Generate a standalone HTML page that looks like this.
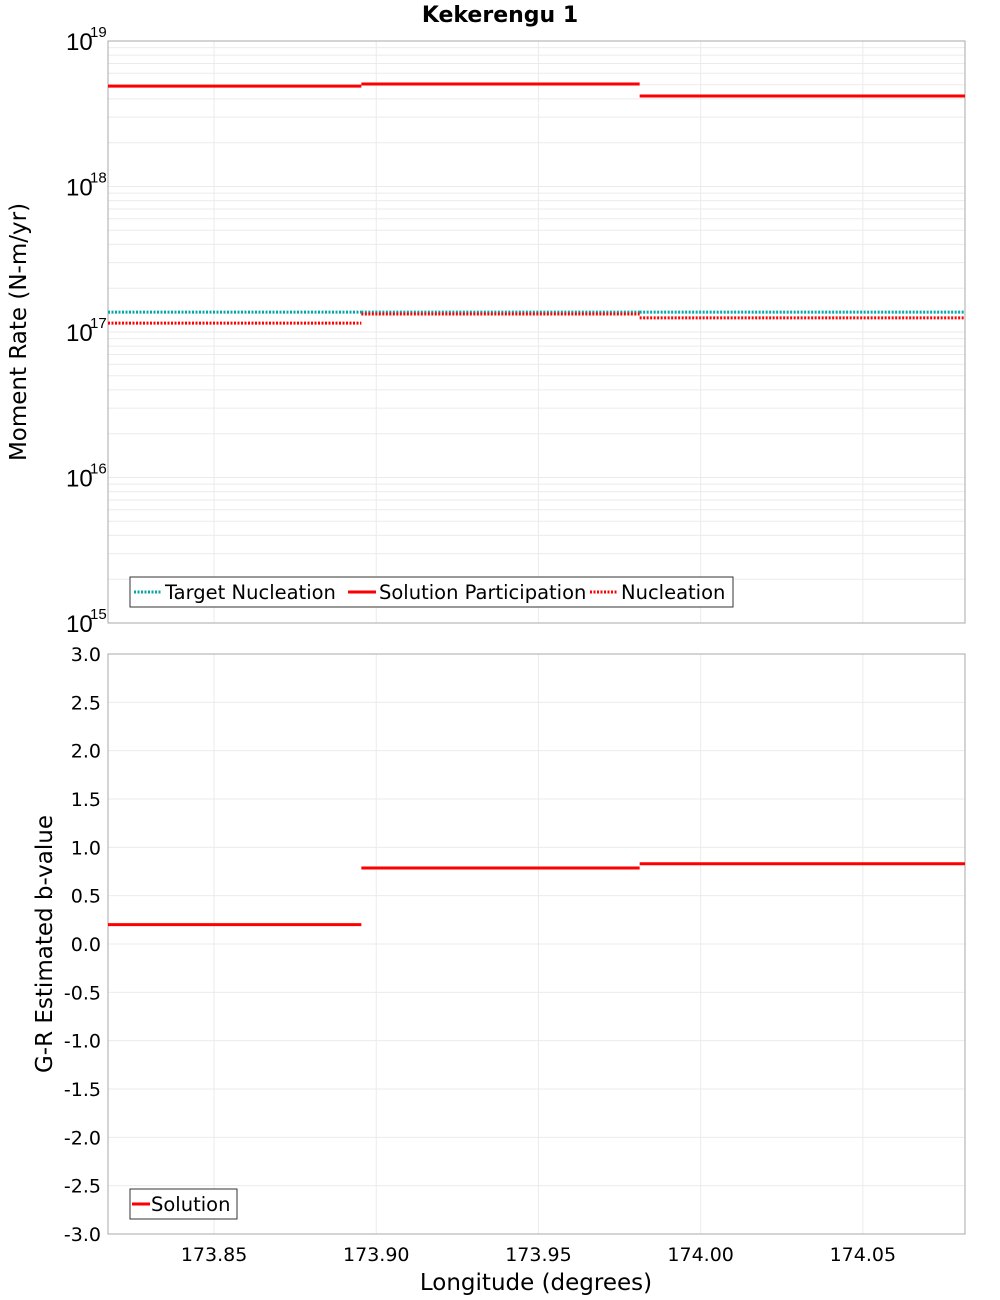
<!DOCTYPE html>
<html><head><meta charset="utf-8"><style>
body{margin:0;background:#fff;}
svg{display:block;font-family:"Liberation Sans","DejaVu Sans",sans-serif;}
</style></head><body>
<svg id="chart" width="1000" height="1300" xmlns="http://www.w3.org/2000/svg">
<text x="500" y="22" text-anchor="middle" font-size="22" font-weight="bold" font-family="DejaVu Sans, sans-serif">Kekerengu 1</text>
<text transform="translate(26,332) rotate(-90)" text-anchor="middle" font-size="23" font-family="DejaVu Sans, sans-serif">Moment Rate (N-m/yr)</text>
<text transform="translate(52,944) rotate(-90)" text-anchor="middle" font-size="23" font-family="DejaVu Sans, sans-serif">G-R Estimated b-value</text>
<text x="536" y="1290" text-anchor="middle" font-size="23" font-family="DejaVu Sans, sans-serif">Longitude (degrees)</text>
<g id="g"></g>
</svg>
<script>
const segStarts=[173.8173,173.8954,173.9812];
const segEnds=[173.8954,173.9812,174.0815];
const targetNucleation=[1.37e17,1.37e17,1.37e17];
const solutionParticipation=[4.9e18,5.06e18,4.19e18];
const nucleation=[1.15e17,1.33e17,1.25e17];
const bValues=[0.2,0.786,0.83];
const xTicks=[173.85,173.90,173.95,174.00,174.05];
const xTickLabels=["173.85","173.90","173.95","174.00","174.05"];
const logTicks=[15,16,17,18,19];
const bTicks=[-3,-2.5,-2,-1.5,-1,-0.5,0,0.5,1,1.5,2,2.5,3];

const NS="http://www.w3.org/2000/svg";
const g=document.getElementById('g');
const L=108,R=965,T1=41,B1=623,T2=654,B2=1234;
const X0=173.8173,X1=174.0815;
const xs=v=>L+(v-X0)/(X1-X0)*(R-L);
const ys1=v=>B1-(Math.log10(v)-15)/4*(B1-T1);
const ys2=v=>B2-(v+3)/6*(B2-T2);
function el(tag,attrs,name){const e=document.createElementNS(NS,tag);for(const k in attrs)e.setAttribute(k,attrs[k]);


g.appendChild(e);return e;}
for(let d=15;d<19;d++)for(let m=1;m<10;m++){const y=ys1(m*Math.pow(10,d));el('line',{x1:L,x2:R,y1:y,y2:y,stroke:'#ebebeb','stroke-width':1},'top-grid-line');}
bTicks.forEach(t=>{const y=ys2(t);el('line',{x1:L,x2:R,y1:y,y2:y,stroke:'#ebebeb','stroke-width':1},'bottom-grid-line');});
xTicks.forEach(t=>{const x=xs(t);
el('line',{x1:x,x2:x,y1:T1,y2:B1,stroke:'#ebebeb','stroke-width':1},'top-x-grid-line');
el('line',{x1:x,x2:x,y1:T2,y2:B2,stroke:'#ebebeb','stroke-width':1},'bottom-x-grid-line');});
el('rect',{x:L,y:T1,width:R-L,height:B1-T1,fill:'none',stroke:'#aaa'},'top-plot-frame');
el('rect',{x:L,y:T2,width:R-L,height:B2-T2,fill:'none',stroke:'#aaa'},'bottom-plot-frame');
logTicks.forEach(t=>{const y=ys1(Math.pow(10,t));
const a=el('text',{x:66,y:y+9,'font-size':24},'top-y-tick-label');a.textContent='10';
const b=el('text',{x:90,y:y-4,'font-size':15},'top-y-tick-exponent');b.textContent=String(t);});
bTicks.forEach(t=>{const y=ys2(t);const a=el('text',{x:101,y:y+7,'text-anchor':'end','font-size':19,'font-family':'DejaVu Sans, sans-serif'},'bottom-y-tick-label');a.textContent=t.toFixed(1);});
xTicks.forEach((t,i)=>{const a=el('text',{x:xs(t),y:1261,'text-anchor':'middle','font-size':19,'font-family':'DejaVu Sans, sans-serif'},'x-tick-label');a.textContent=xTickLabels[i];});
function steps(vals,ys,color,dash,name){
for(let i=0;i<vals.length;i++){const y=ys(vals[i]);
const at={x1:xs(segStarts[i]),x2:xs(segEnds[i]),y1:y,y2:y,stroke:color,'stroke-width':3};
if(dash)at['stroke-dasharray']='2 1.5';
el('line',at,name);}}
steps(targetNucleation,ys1,'#00a8a8',true,'target-nucleation-line');
steps(solutionParticipation,ys1,'#ff0000',false,'solution-participation-line');
steps(nucleation,ys1,'#ff0000',true,'nucleation-line');
steps(bValues,ys2,'#ff0000',false,'b-value-solution-line');
el('rect',{x:130,y:577,width:603,height:30,fill:'#fff',stroke:'#333'},'top-legend');
const items=[['Target Nucleation','#00a8a8',true,134],['Solution Participation','#ff0000',false,348],['Nucleation','#ff0000',true,590]];
items.forEach(it=>{const a={x1:it[3],x2:it[3]+28,y1:592,y2:592,stroke:it[1],'stroke-width':3};if(it[2])a['stroke-dasharray']='2 1.5';el('line',a,'legend-swatch');
const t=el('text',{x:it[3]+31,y:599,'font-size':19.5,'font-family':'DejaVu Sans, sans-serif'},'legend-entry');t.textContent=it[0];});
el('rect',{x:130,y:1189,width:107,height:30,fill:'#fff',stroke:'#333'},'bottom-legend');
el('line',{x1:132,x2:150,y1:1204,y2:1204,stroke:'#ff0000','stroke-width':3},'legend-swatch');
const t2=el('text',{x:151,y:1211,'font-size':19.5,'font-family':'DejaVu Sans, sans-serif'},'legend-entry');t2.textContent='Solution';
</script>
</body></html>
